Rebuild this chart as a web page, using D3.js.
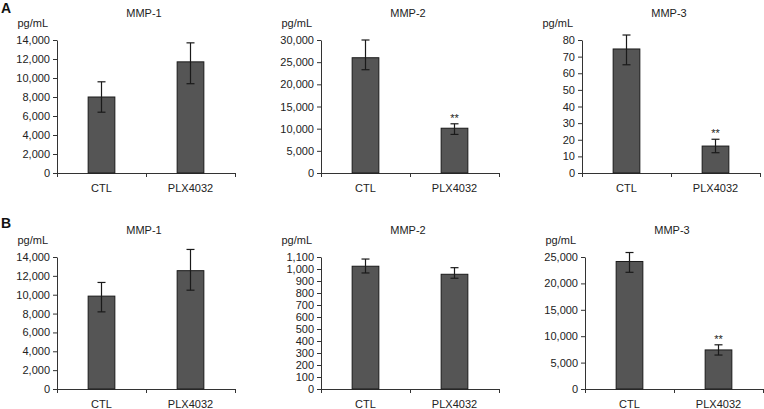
<!DOCTYPE html>
<html><head><meta charset="utf-8">
<script src="https://cdn.jsdelivr.net/npm/d3@7"></script>
<style>body{margin:0;background:#fff}svg{display:block}text{font-family:"Liberation Sans",Arial,sans-serif}</style>
</head><body><svg id="c" width="764" height="409"></svg>
<script>
const categories = ["CTL", "PLX4032"];
const titles = ["MMP-1", "MMP-2", "MMP-3"];
const rowLabels = ["A", "B"];
const unitLabel = "pg/mL";
// Row A
const meansA = [[8000, 11700], [26000, 10100], [74.6, 16.2]];
const upperA = [[9600, 13700], [30000, 11100], [83, 20.3]];
const lowerA = [[6400, 9400], [23300, 8700], [65.1, 12.2]];
const yMaxA = [14000, 30000, 80];
const yStepA = [2000, 5000, 10];
const sigA = [["", ""], ["", "**"], ["", "**"]];
// Row B
const meansB = [[9850, 12550], [1023, 956], [24150, 7400]];
const upperB = [[11300, 14800], [1083, 1011], [25850, 8370]];
const lowerB = [[8180, 10480], [967, 923], [22100, 6430]];
const yMaxB = [14000, 1100, 25000];
const yStepB = [2000, 100, 5000];
const sigB = [["", ""], ["", ""], ["", "**"]];

const svg = d3.select("#c");
const rows = [
  {label: rowLabels[0], means: meansA, upper: upperA, lower: lowerA, yMax: yMaxA, yStep: yStepA, sig: sigA,
   top: 40, bottom: 173, xs: [57, 321, 582], labelY: 13},
  {label: rowLabels[1], means: meansB, upper: upperB, lower: lowerB, yMax: yMaxB, yStep: yStepB, sig: sigB,
   top: 257, bottom: 389, xs: [57, 321, 585], labelY: 228}
];
const W = 178, textCol = "#222", axisCol = "#333";
const fmt = d3.format(",");

rows.forEach(r => {
  svg.append("text").attr("x", 1).attr("y", r.labelY).attr("font-size", 14).attr("font-weight", "bold")
    .attr("fill", "#111").text(r.label);
  titles.forEach((t, i) => {
    const x0 = r.xs[i];
    const g = svg.append("g");
    const x = d3.scaleBand().domain(categories).range([x0, x0 + W]);
    const y = d3.scaleLinear().domain([0, r.yMax[i]]).range([r.bottom, r.top]);
    const ticks = d3.range(0, r.yMax[i] + r.yStep[i] / 2, r.yStep[i]);
    const ya = g.append("g").attr("transform", `translate(${x0},0)`)
      .call(d3.axisLeft(y).tickValues(ticks).tickFormat(fmt).tickSize(4).tickSizeOuter(0));
    ya.selectAll("path,line").attr("stroke", axisCol);
    ya.selectAll("text").attr("font-size", 11).attr("fill", textCol).attr("font-family", '"Liberation Sans",Arial,sans-serif');
    // x axis line with boundary ticks
    g.append("line").attr("x1", x0).attr("x2", x0 + W).attr("y1", r.bottom + 0.5).attr("y2", r.bottom + 0.5).attr("stroke", axisCol);
    [x0, x0 + x.step(), x0 + 2 * x.step()].forEach(tx => {
      g.append("line").attr("x1", tx + 0.5).attr("x2", tx + 0.5).attr("y1", r.bottom).attr("y2", r.bottom + 4).attr("stroke", axisCol);
    });
    categories.forEach((c, j) => {
      g.append("text").attr("x", x(c) + x.bandwidth() / 2).attr("y", r.bottom + 19)
        .attr("text-anchor", "middle").attr("font-size", 11).attr("fill", textCol).text(c);
    });
    const bw = x.bandwidth() * 0.3;
    categories.forEach((c, j) => {
      const cx = x(c) + x.bandwidth() / 2;
      const v = r.means[i][j];
      g.append("rect").attr("x", cx - bw / 2).attr("y", y(v)).attr("width", bw).attr("height", r.bottom - y(v))
        .attr("fill", "#555").attr("stroke", "#1a1a1a").attr("stroke-width", 1);
      const hi = y(r.upper[i][j]), lo = y(r.lower[i][j]);
      g.append("line").attr("x1", cx).attr("x2", cx).attr("y1", hi).attr("y2", lo).attr("stroke", "#1a1a1a").attr("stroke-width", 1.2);
      [hi, lo].forEach(yy => g.append("line").attr("x1", cx - 4).attr("x2", cx + 4).attr("y1", yy).attr("y2", yy)
        .attr("stroke", "#1a1a1a").attr("stroke-width", 1.2));
      if (r.sig[i][j]) {
        g.append("text").attr("x", cx).attr("y", hi - 2).attr("text-anchor", "middle").attr("font-size", 11)
          .attr("fill", textCol).text(r.sig[i][j]);
      }
    });
    g.append("text").attr("x", x0 + W / 2 - 2).attr("y", r.top - 23).attr("text-anchor", "middle")
      .attr("font-size", 11).attr("fill", textCol).text(t);
    g.append("text").attr("x", x0 - 9).attr("y", r.top - 13).attr("text-anchor", "end")
      .attr("font-size", 11).attr("fill", textCol).text(unitLabel);
  });
});
</script></body></html>
